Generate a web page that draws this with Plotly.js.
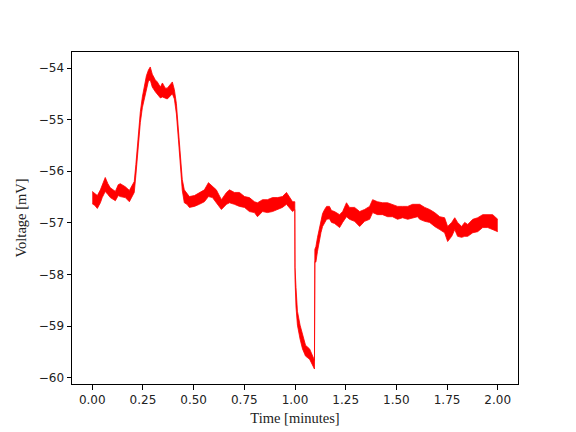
<!DOCTYPE html>
<html>
<head>
<meta charset="utf-8">
<script src="https://cdn.plot.ly/plotly-3.0.1.min.js"></script>
<style>html,body{margin:0;padding:0;background:#fff;}#chart{width:576px;height:432px;}</style>
</head>
<body>
<div id="chart"></div>
<script>
// Time in minutes
const timeMin = [0.000,0.012,0.025,0.040,0.049,0.064,0.077,0.089,0.114,0.128,0.138,0.163,0.183,0.198,0.207,0.215,0.222,0.237,0.247,0.257,0.267,0.277,0.286,0.296,0.311,0.321,0.336,0.346,0.360,0.370,0.385,0.395,0.405,0.415,0.425,0.435,0.444,0.454,0.467,0.479,0.504,0.528,0.553,0.573,0.593,0.612,0.637,0.662,0.677,0.701,0.726,0.751,0.775,0.800,0.815,0.840,0.864,0.889,0.914,0.938,0.958,0.973,0.988,0.999,1.000,1.005,1.012,1.025,1.037,1.052,1.072,1.086,1.096,1.098,1.103,1.111,1.121,1.128,1.136,1.146,1.156,1.170,1.180,1.195,1.205,1.220,1.235,1.254,1.269,1.294,1.319,1.343,1.368,1.383,1.407,1.432,1.457,1.481,1.506,1.531,1.556,1.580,1.605,1.615,1.640,1.664,1.689,1.714,1.738,1.753,1.773,1.788,1.802,1.822,1.837,1.852,1.877,1.901,1.926,1.951,1.975,2.000];
// Upper edge of the noisy voltage trace (mV)
const voltageUpper = [-56.39,-56.43,-56.47,-56.36,-56.26,-56.12,-56.24,-56.32,-56.39,-56.26,-56.24,-56.30,-56.37,-56.28,-56.20,-55.87,-55.49,-54.85,-54.56,-54.35,-54.15,-54.04,-53.98,-54.12,-54.23,-54.27,-54.37,-54.29,-54.39,-54.39,-54.33,-54.27,-54.42,-54.69,-55.20,-55.74,-56.16,-56.36,-56.43,-56.49,-56.47,-56.41,-56.36,-56.22,-56.30,-56.36,-56.55,-56.41,-56.36,-56.41,-56.41,-56.49,-56.51,-56.59,-56.61,-56.55,-56.55,-56.51,-56.51,-56.49,-56.41,-56.51,-56.59,-56.59,-57.86,-58.25,-58.71,-58.98,-59.17,-59.37,-59.44,-59.56,-59.66,-57.51,-57.46,-57.28,-57.09,-56.95,-56.82,-56.74,-56.68,-56.68,-56.76,-56.78,-56.80,-56.84,-56.78,-56.61,-56.70,-56.70,-56.78,-56.74,-56.68,-56.55,-56.59,-56.61,-56.61,-56.64,-56.68,-56.68,-56.68,-56.64,-56.63,-56.64,-56.70,-56.74,-56.80,-56.88,-56.90,-57.07,-56.99,-56.90,-56.99,-57.07,-56.99,-57.03,-56.93,-56.90,-56.84,-56.84,-56.84,-56.93];
// Lower edge of the noisy voltage trace (mV)
const voltageLower = [-56.63,-56.66,-56.72,-56.61,-56.51,-56.39,-56.45,-56.51,-56.57,-56.47,-56.49,-56.51,-56.59,-56.49,-56.41,-56.08,-55.70,-55.06,-54.77,-54.60,-54.39,-54.25,-54.23,-54.37,-54.46,-54.50,-54.58,-54.56,-54.58,-54.60,-54.54,-54.50,-54.60,-54.89,-55.39,-55.93,-56.37,-56.61,-56.64,-56.70,-56.68,-56.64,-56.59,-56.49,-56.51,-56.61,-56.74,-56.64,-56.61,-56.64,-56.68,-56.70,-56.78,-56.80,-56.88,-56.78,-56.80,-56.78,-56.74,-56.70,-56.64,-56.70,-56.78,-56.74,-58.09,-58.63,-58.98,-59.25,-59.44,-59.58,-59.64,-59.75,-59.83,-57.75,-57.76,-57.55,-57.32,-57.19,-57.07,-56.99,-56.93,-56.92,-56.99,-57.01,-57.05,-57.09,-56.99,-56.88,-56.93,-56.97,-57.07,-56.97,-56.93,-56.80,-56.84,-56.84,-56.88,-56.88,-56.93,-56.90,-56.93,-56.90,-56.88,-56.93,-56.97,-56.99,-57.07,-57.13,-57.19,-57.36,-57.26,-57.13,-57.26,-57.28,-57.26,-57.26,-57.19,-57.17,-57.09,-57.09,-57.13,-57.17];
const xTicks = [0, 0.25, 0.5, 0.75, 1.0, 1.25, 1.5, 1.75, 2.0];
const yTicks = [-60, -59, -58, -57, -56, -55, -54];

const traces = [
  {x: timeMin, y: voltageLower, type: 'scatter', mode: 'lines',
   line: {color: '#ff0000', width: 0.8}, showlegend: false, hoverinfo: 'skip'},
  {x: timeMin, y: voltageUpper, type: 'scatter', mode: 'lines', fill: 'tonexty',
   fillcolor: '#ff0000', line: {color: '#ff0000', width: 0.8}, showlegend: false, hoverinfo: 'skip'}
];

const axisCommon = {
  showgrid: false, zeroline: false, showline: true, mirror: true,
  linecolor: '#000', linewidth: 1, ticks: 'outside', ticklen: 4.5, tickwidth: 1,
  tickcolor: '#000', tickfont: {family: 'DejaVu Sans', size: 12, color: '#222'}
};

const layout = {
  width: 576, height: 432,
  margin: {l: 72, r: 58, t: 52, b: 48, pad: 0},
  paper_bgcolor: '#fff', plot_bgcolor: '#fff',
  xaxis: Object.assign({}, axisCommon, {
    range: [-0.1, 2.1], tickvals: xTicks, tickformat: '.2f',
    title: {text: 'Time [minutes]', font: {family: 'Liberation Serif', size: 14.5, color: '#222'}, standoff: 6}
  }),
  yaxis: Object.assign({}, axisCommon, {
    range: [-60.12, -53.69], tickvals: yTicks,
    title: {text: 'Voltage [mV]', font: {family: 'Liberation Serif', size: 14.5, color: '#222'}, standoff: 8}
  })
};

Plotly.newPlot('chart', traces, layout, {staticPlot: true, displayModeBar: false});
</script>
</body>
</html>
